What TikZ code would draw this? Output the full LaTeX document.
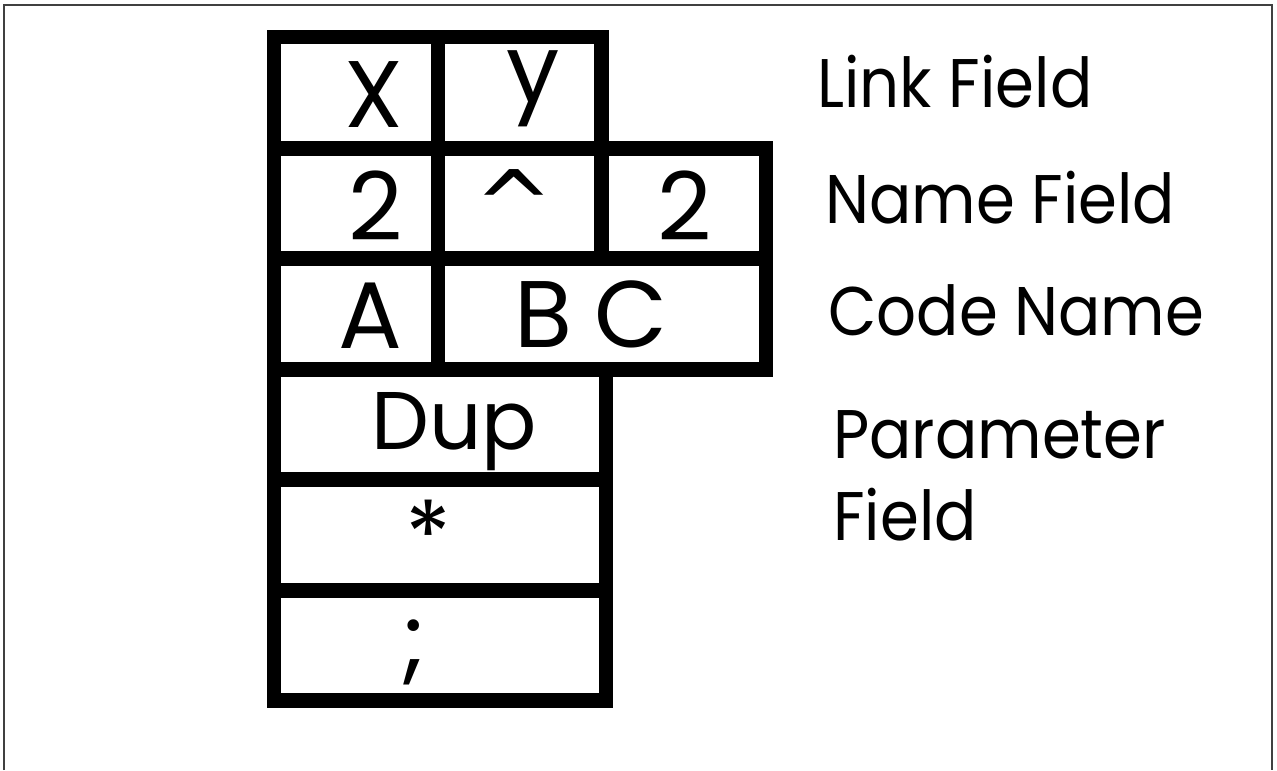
\documentclass[tikz,border=0pt]{standalone}
\usepackage{fontspec}
\setmainfont{Poppins}
\newfontfamily\labelfont{Poppins}[FakeStretch=0.91]
\newfontfamily\caretfont{DejaVu Sans}
\usepackage{tikz}
\tikzset{
  frameline/.style  = {draw=black!75, line width=0.75pt},
  cellline/.style   = {draw=black, line width=7.2pt, line join=miter},
  celltext/.style   = {font=\fontsize{47.3}{52}\selectfont, inner sep=0pt,
                       anchor=base},
  cellsmall/.style  = {celltext, font=\fontsize{40.9}{46}\selectfont},
  fieldlabel/.style = {font=\labelfont\fontsize{34.4}{38}\selectfont,
                       inner sep=0pt, anchor=base west},
}

\begin{document}
\begin{tikzpicture}[x=0.5pt, y=-0.5pt]
    \useasboundingbox (0,0) rectangle (1277,770);
    \draw[frameline] (4,770) -- (4,5) -- (1272,5) -- (1272,770);
    % the record
    \draw[cellline] (274,37) rectangle (601.5,148.5);
    \draw[cellline] (274,148.5) rectangle (766,369.5);
    \draw[cellline] (274,369.5) rectangle (606,700.5);
    \draw[cellline] (274,258.5) -- (766,258.5);
    \draw[cellline] (438,37) -- (438,369.5);
    \draw[cellline] (601.5,148.5) -- (601.5,258.5);
    \draw[cellline] (274,479.5) -- (606,479.5) (274,590.5) -- (606,590.5);
    % cell contents
    \node[celltext]  (cx)    at (374,128)   {X};
    \node[celltext]  (cy)    at (533,103)   {y};
    \node[celltext]  (ctwo)  at (375.5,240) {2};
    \node[celltext]  (chat)  at (514,238)   {\caretfont\char`\^};
    \node[celltext]  (ctwob) at (684.5,240) {2};
    \node[celltext]  (ca)    at (370.5,348) {A};
    \node[celltext]  (cbc)   at (591,347)   {B\kern-2pt\ C};
    \node[cellsmall] (cdup)  at (454,449)   {Dup};
    \node[celltext]  (cstar) at (428,569)   {*};
    \node[celltext]  (csemi) at (414,671)   {;};
    % field names
    \node[fieldlabel] (link)   at (817,108) {Link Field};
    \node[fieldlabel] (name)   at (825,223) {Name Field};
    \node[fieldlabel] (code)   at (828,335) {Code Name};
    \node[fieldlabel] (param)  at (833,458) {Parameter};
    \node[fieldlabel] (paramb) at (833,540) {Field};
  \end{tikzpicture}
\end{document}
